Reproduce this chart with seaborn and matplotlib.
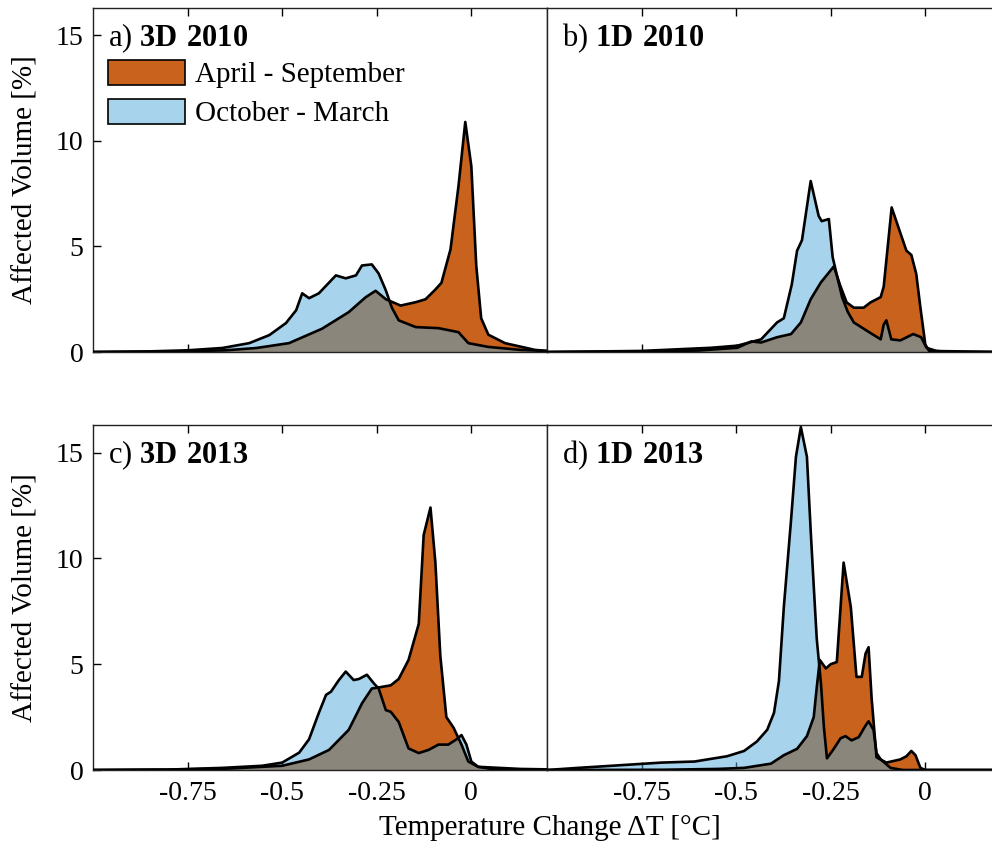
import numpy as np
import matplotlib
matplotlib.use("Agg")
import matplotlib.pyplot as plt
from matplotlib.patches import Patch
import seaborn as sns

# ---------------- data ----------------
season_labels = ["April - September", "October - March"]
panel_titles = [("a)", "3D 2010"), ("b)", "1D 2010"), ("c)", "3D 2013"), ("d)", "1D 2013")]
x_ticks = [-0.75, -0.5, -0.25, 0]
x_tick_labels = ["-0.75", "-0.5", "-0.25", "0"]
y_ticks = [0, 5, 10, 15]

# a) 3D 2010
xa_o = [-1.0, -0.8, -0.65, -0.568, -0.482, -0.395, -0.324, -0.279, -0.253, -0.226, -0.187, -0.147, -0.121,
        -0.095, -0.079, -0.055, -0.034, -0.016, 0.0, 0.013, 0.026, 0.045, 0.089, 0.168, 0.2]
ya_o = [0, 0.02, 0.08, 0.19, 0.42, 1.1, 1.89, 2.6, 2.9, 2.5, 2.2, 2.36, 2.5,
        2.96, 3.28, 4.87, 7.86, 10.9, 8.8, 4.1, 1.6, 0.82, 0.42, 0.1, 0.05]
xa_b = [-1.0, -0.85, -0.75, -0.658, -0.587, -0.534, -0.49, -0.463, -0.447, -0.429, -0.403, -0.358, -0.332,
        -0.305, -0.289, -0.263, -0.245, -0.226, -0.21, -0.192, -0.147, -0.087, -0.034, -0.008, 0.045, 0.13, 0.2]
ya_b = [0, 0.03, 0.08, 0.19, 0.42, 0.8, 1.37, 1.98, 2.78, 2.55, 2.78, 3.63, 3.49,
        3.63, 4.1, 4.15, 3.72, 2.92, 2.1, 1.5, 1.18, 1.13, 0.94, 0.42, 0.24, 0.1, 0.05]

# b) 1D 2010
xb_o = [-1.0, -0.8, -0.6, -0.497, -0.46, -0.434, -0.392, -0.355, -0.329, -0.303, -0.276, -0.242, -0.224,
        -0.208, -0.189, -0.163, -0.145, -0.118, -0.11, -0.089, -0.071, -0.05, -0.037, -0.024, -0.013, 0.0, 0.01, 0.2]
yb_o = [0, 0.02, 0.07, 0.2, 0.5, 0.45, 0.7, 0.85, 1.4, 2.5, 3.3, 4.05, 3.1,
        2.35, 2.1, 2.1, 2.35, 2.6, 3.1, 6.85, 5.9, 4.8, 4.6, 3.7, 2.1, 0.35, 0.05, 0]
xb_b = [-1.0, -0.75, -0.566, -0.497, -0.434, -0.392, -0.374, -0.353, -0.339, -0.326, -0.303, -0.282, -0.274,
        -0.255, -0.245, -0.232, -0.22, -0.205, -0.189, -0.145, -0.118, -0.11, -0.103, -0.09, -0.066, -0.032,
        -0.011, 0.003, 0.029, 0.06, 0.2]
yb_b = [0, 0.05, 0.2, 0.3, 0.6, 1.4, 1.6, 3.2, 4.8, 5.3, 8.1, 6.45, 6.2,
        6.3, 4.5, 3.5, 2.6, 1.9, 1.4, 0.9, 0.6, 1.3, 1.5, 0.6, 0.55, 0.85,
        0.7, 0.2, 0.05, 0.0, 0]

# c) 3D 2013
xc_o = [-1.0, -0.8, -0.65, -0.5, -0.429, -0.376, -0.324, -0.289, -0.263, -0.245, -0.213, -0.192, -0.166,
        -0.139, -0.126, -0.108, -0.095, -0.082, -0.066, -0.047, -0.026, -0.008, 0.018, 0.13, 0.2]
yc_o = [0, 0.02, 0.06, 0.2, 0.5, 0.95, 1.9, 3.15, 3.85, 3.9, 4.0, 4.3, 5.2,
        6.9, 11.1, 12.4, 9.8, 5.4, 2.5, 2.0, 1.2, 0.4, 0.15, 0.05, 0.03]
xc_b = [-1.0, -0.8, -0.658, -0.553, -0.5, -0.455, -0.429, -0.403, -0.384, -0.371, -0.35, -0.332, -0.311,
        -0.297, -0.276, -0.258, -0.245, -0.226, -0.213, -0.192, -0.166, -0.139, -0.113, -0.087, -0.061,
        -0.039, -0.026, -0.013, 0.0, 0.018, 0.06, 0.2]
yc_b = [0, 0.02, 0.1, 0.2, 0.35, 0.82, 1.45, 2.7, 3.55, 3.7, 4.25, 4.65, 4.25,
        4.3, 4.5, 4.1, 3.85, 2.83, 2.75, 2.27, 1.02, 0.8, 0.95, 1.2, 1.2,
        1.45, 1.65, 1.2, 0.4, 0.15, 0.03, 0]

# d) 1D 2013
xd_o = [-1.0, -0.7, -0.55, -0.479, -0.408, -0.374, -0.339, -0.313, -0.295, -0.287, -0.279, -0.263, -0.25,
        -0.234, -0.216, -0.197, -0.182, -0.168, -0.158, -0.15, -0.142, -0.129, -0.103, -0.066, -0.05,
        -0.037, -0.026, -0.013, 0.0, 0.2]
yd_o = [0, 0.01, 0.05, 0.1, 0.3, 0.7, 1.0, 1.6, 2.5, 3.9, 5.2, 4.8, 5.0,
        5.1, 9.8, 7.7, 4.4, 4.4, 5.5, 5.8, 3.4, 0.6, 0.35, 0.5, 0.65,
        0.9, 0.7, 0.1, 0.0, 0]
xd_b = [-1.0, -0.918, -0.829, -0.697, -0.61, -0.524, -0.479, -0.445, -0.418, -0.4, -0.387, -0.374, -0.355,
        -0.342, -0.329, -0.313, -0.303, -0.295, -0.287, -0.276, -0.268, -0.26, -0.242, -0.224, -0.211,
        -0.195, -0.176, -0.158, -0.15, -0.137, -0.129, -0.118, -0.092, -0.06, 0.2]
yd_b = [0, 0.1, 0.2, 0.35, 0.4, 0.65, 0.9, 1.35, 1.9, 2.7, 4.2, 7.7, 11.8,
        14.8, 16.2, 14.8, 11.3, 8.7, 6.2, 4.1, 2.0, 0.55, 1.0, 1.5, 1.6,
        1.4, 1.55, 2.1, 2.3, 1.9, 0.8, 0.5, 0.1, 0.0, 0]

panels = [
    (xa_o, ya_o, xa_b, ya_b),
    (xb_o, yb_o, xb_b, yb_b),
    (xc_o, yc_o, xc_b, yc_b),
    (xd_o, yd_o, xd_b, yd_b),
]

# ---------------- style ----------------
sns.set_theme(style="ticks")
plt.rcParams["font.family"] = ["Liberation Serif", "DejaVu Serif"]
plt.rcParams["mathtext.fontset"] = "custom"
plt.rcParams["mathtext.rm"] = "Liberation Serif"
plt.rcParams["mathtext.bf"] = "Liberation Serif:bold"
plt.rcParams["text.color"] = "black"
plt.rcParams["axes.labelcolor"] = "black"
plt.rcParams["xtick.color"] = "black"
plt.rcParams["ytick.color"] = "black"

ORANGE = (200 / 255, 98 / 255, 28 / 255)
BLUE = (80 / 255, 170 / 255, 218 / 255, 0.5)

fig = plt.figure(figsize=(9.92, 8.48), dpi=100)
W, H = 992, 848
ax_w = 454 / W
positions = [
    (93 / W, 1 - 352 / H, ax_w, 344 / H),
    (547 / W, 1 - 352 / H, ax_w, 344 / H),
    (93 / W, 1 - 770 / H, ax_w, 345 / H),
    (547 / W, 1 - 770 / H, ax_w, 345 / H),
]

for i, (pos, (xo, yo, xb, yb), (lab, ttl)) in enumerate(zip(positions, panels, panel_titles)):
    ax = fig.add_axes(pos)
    ax.fill_between(xo, 0, yo, facecolor=ORANGE, edgecolor="none", zorder=1)
    ax.fill_between(xb, 0, yb, facecolor=BLUE, edgecolor="none", zorder=2)
    sns.lineplot(x=xo, y=yo, color="black", lw=1.9, ax=ax, sort=False, estimator=None, zorder=3,
                 solid_joinstyle="round")
    sns.lineplot(x=xb, y=yb, color="black", lw=1.9, ax=ax, sort=False, estimator=None, zorder=3,
                 solid_joinstyle="round")

    ax.set_xlim(-1.0, 0.2)
    ax.set_ylim(0, 16.3)
    ax.set_xticks(x_ticks)
    ax.set_yticks(y_ticks)
    ax.set_xticklabels(x_tick_labels)
    ax.tick_params(axis="both", direction="in", length=6, width=1.0, colors="black",
                   labelsize=20, top=True, bottom=True)
    ax.tick_params(axis="x", pad=8)
    ax.tick_params(axis="y", pad=7)
    for sp in ax.spines.values():
        sp.set_visible(True)
        sp.set_color("#222222")
        sp.set_linewidth(1.0)

    if i % 2 == 1:
        ax.tick_params(axis="y", left=False, labelleft=False)
        ax.set_ylabel("")
    else:
        ax.set_ylabel("Affected Volume [%]", fontsize=21, labelpad=12)
    if i < 2:
        ax.tick_params(axis="x", labelbottom=False)
    ax.set_xlabel("")

    ax.text(0.033, 0.913, lab + r" $\mathbf{" + ttl.replace(" ", r"\ ") + "}$",
            transform=ax.transAxes, fontsize=22, ha="left", va="center", zorder=5)

    if i == 0:
        handles = [Patch(facecolor=ORANGE, edgecolor="black", linewidth=1.2),
                   Patch(facecolor=BLUE, edgecolor="black", linewidth=1.2)]
        ax.legend(handles, season_labels, loc="upper left", bbox_to_anchor=(0.033, 0.85),
                  frameon=False, fontsize=21, borderpad=0, borderaxespad=0,
                  handlelength=2.65, handleheight=0.97, handletextpad=0.35, labelspacing=0.35)

fig.text(550 / W, 1 - 828 / H, "Temperature Change ΔT [°C]", ha="center", va="center", fontsize=21)

fig.savefig("out.png", dpi=100)
